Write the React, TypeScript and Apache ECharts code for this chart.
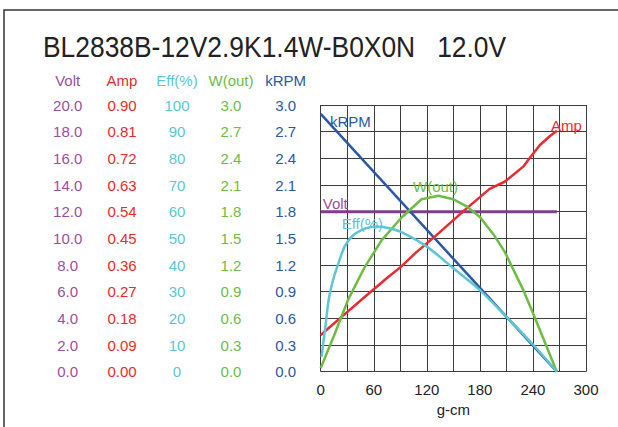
import React, { useEffect, useRef } from "react";
import * as echarts from "echarts";

const titleText = "BL2838B-12V2.9K1.4W-B0X0N   12.0V";

const voltTorque = [0, 267];
const voltValues = [12, 12];

const ampTorque = [0, 10, 24, 50, 77, 90, 107, 129, 165, 180, 191, 208, 229, 239, 248, 258, 267];
const ampValues = [0.124, 0.15, 0.186, 0.253, 0.321, 0.352, 0.4, 0.456, 0.551, 0.589, 0.617, 0.641, 0.692, 0.731, 0.765, 0.792, 0.813];

const effTorque = [1, 3, 5, 9, 14, 20, 27, 35, 46, 63, 75, 90, 120, 150, 180, 210, 240, 267];
const effValues = [5.6, 11, 16, 27, 34.4, 40.6, 46.9, 50.6, 53.1, 54.4, 54, 52.5, 46.9, 38.8, 30.6, 20.6, 10.2, 0];

const wTorque = [0, 16, 31, 50, 69, 92, 114, 133, 150, 165, 180, 195, 208, 229, 240, 267];
const wValues = [0.04, 0.43, 0.81, 1.18, 1.48, 1.74, 1.94, 1.98, 1.94, 1.86, 1.74, 1.55, 1.35, 0.92, 0.66, 0];

const rpmTorque = [0, 267];
const rpmValues = [2.9, 0];

const axisNames = ["Volt", "Amp", "Eff(%)", "W(out)", "kRPM"];
const axisMax = [20, 0.9, 100, 3, 3];
const axisDecimals = [1, 2, 0, 1, 1];

const COLORS = {
  volt: "#9a4f9e",
  voltLine: "#7e3e8e",
  amp: "#ea2a2e",
  eff: "#5cc6d4",
  w: "#6cbd45",
  rpm: "#2a58a6",
};
const axisColors = [COLORS.volt, COLORS.amp, COLORS.eff, COLORS.w, COLORS.rpm];
const columnCenters = [67.7, 122, 177, 231, 285.7];

const GRID = { left: 320.7, top: 105, width: 265.3, height: 266.7 };

const pairs = (xs: number[], ys: number[]) => xs.map((x, i) => [x, ys[i]]);

export default function App() {
  const ref = useRef<HTMLDivElement>(null);
  useEffect(() => {
    if (!ref.current) return;
    const chart = echarts.init(ref.current, null, { renderer: "svg" });
    const font = "Liberation Sans, Arial, sans-serif";
    const yAxes = axisNames.map((name, i) => ({
      type: "value",
      position: "left",
      offset: GRID.left - columnCenters[i],
      min: 0,
      max: axisMax[i],
      interval: axisMax[i] / 10,
      axisLine: { show: false },
      axisTick: { show: false },
      axisLabel: {
        color: axisColors[i],
        fontSize: 15,
        fontFamily: font,
        align: "center",
        margin: 0,
        formatter: (v: number) => v.toFixed(axisDecimals[i]),
      },
      splitLine: { show: i === 0, lineStyle: { color: "#3c3c3c", width: 1 } },
    }));
    const lineSeries = (name: string, xs: number[], ys: number[], yIdx: number, color: string, width: number, smooth: any) => ({
      type: "line",
      name,
      yAxisIndex: yIdx,
      data: pairs(xs, ys),
      showSymbol: false,
      smooth,
      lineStyle: { color, width },
      itemStyle: { color },
    });
    const label = (text: string, x: number, y: number, color: string, align = "left") => ({
      type: "text",
      x,
      y,
      style: { text, fill: color, fontSize: 15, fontFamily: font, verticalAlign: "middle", align },
      z: 10,
    });
    chart.setOption({
      animation: false,
      grid: { ...GRID },
      xAxis: {
        type: "value",
        min: 0,
        max: 300,
        interval: 30,
        name: "g-cm",
        nameLocation: "middle",
        nameGap: 30,
        nameTextStyle: { color: "#222", fontSize: 15, fontFamily: font },
        axisLine: { show: false },
        axisTick: { show: false },
        axisLabel: { color: "#222", fontSize: 15, fontFamily: font, margin: 10, interval: 1,
          formatter: (v: number) => (v % 60 === 0 ? String(v) : "") },
        splitLine: { show: true, lineStyle: { color: "#3c3c3c", width: 1 } },
      },
      yAxis: yAxes,
      series: [
        lineSeries("Volt", voltTorque, voltValues, 0, COLORS.voltLine, 3, false),
        lineSeries("kRPM", rpmTorque, rpmValues, 4, COLORS.rpm, 2.5, false),
        lineSeries("Amp", ampTorque, ampValues, 1, COLORS.amp, 2.5, false),
        lineSeries("W(out)", wTorque, wValues, 3, COLORS.w, 2.5, false),
        lineSeries("Eff(%)", effTorque, effValues, 2, COLORS.eff, 2.5, 0.3),
      ],
      graphic: [
        { type: "rect", shape: { x: 4, y: 10, width: 800, height: 600 }, style: { fill: "none", stroke: "#333", lineWidth: 1.5 } },
        { type: "text", x: 43, y: 46, scaleX: 0.88, style: { text: titleText, fill: "#222", fontSize: 30, fontFamily: font, verticalAlign: "middle" } },
        ...axisNames.map((n, i) => label(n, columnCenters[i], 80, axisColors[i], "center")),
        label("kRPM", 330, 121, COLORS.rpm),
        label("Amp", 551, 125, COLORS.amp),
        label("W(out)", 413, 186.7, COLORS.w),
        label("Volt", 322.7, 203.3, COLORS.volt),
        label("Eff(%)", 341.7, 223.3, COLORS.eff),
      ],
    });
    return () => chart.dispose();
  }, []);
  return <div ref={ref} style={{ position: "fixed", left: 0, top: 0, width: 618, height: 427, background: "#fff" }} />;
}
